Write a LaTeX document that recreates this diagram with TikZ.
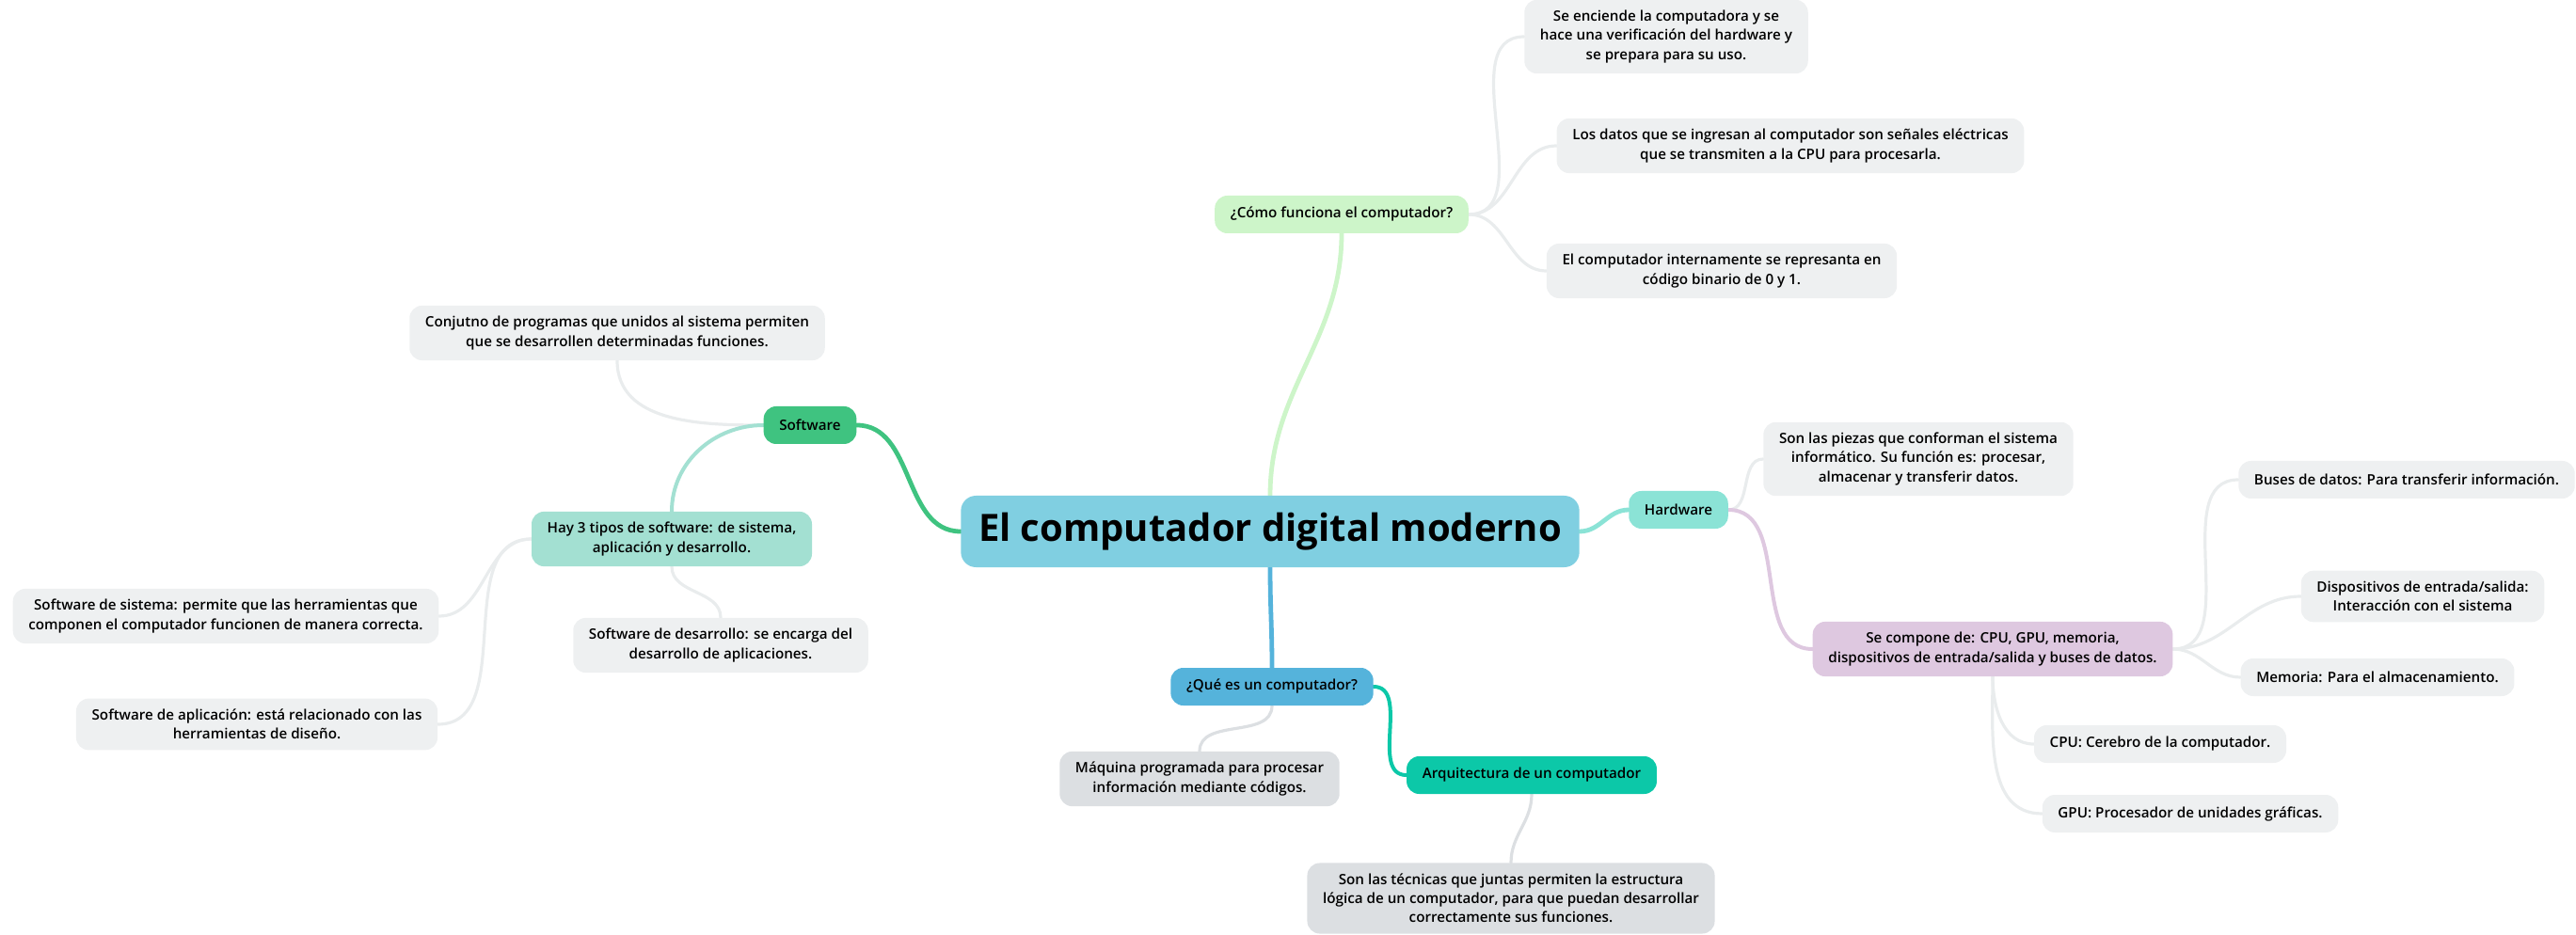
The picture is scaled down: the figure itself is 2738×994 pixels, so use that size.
\documentclass[tikz,border=0pt]{standalone}
\usepackage{fontspec}
\setmainfont{Open Sans}
\IfFontExistsTF{Open Sans SemiBold}{\newfontfamily\semib{Open Sans SemiBold}}{%
  \IfFontExistsTF{Open Sans Semibold}{\newfontfamily\semib{Open Sans Semibold}}{\newcommand\semib{\bfseries}}}
\usetikzlibrary{positioning,backgrounds}

\definecolor{rootblue}{HTML}{80CFE1}
\definecolor{howgreen}{HTML}{CDF5C9}
\definecolor{softgreen}{HTML}{3FC380}
\definecolor{typeteal}{HTML}{A3E0D2}
\definecolor{hardaqua}{HTML}{8BE3D6}
\definecolor{partlilac}{HTML}{DEC8E0}
\definecolor{whatblue}{HTML}{55B3DB}
\definecolor{archteal}{HTML}{0CC8A8}
\definecolor{leafgray}{HTML}{EEF0F1}
\definecolor{notegray}{HTML}{DCDFE2}
\definecolor{leafline}{HTML}{E9ECED}

\begin{document}
\begin{tikzpicture}[x=0.75pt,y=0.75pt,
    root/.style={rounded corners=12pt,fill=rootblue,inner xsep=14pt,minimum height=57pt,font=\bfseries\fontsize{30}{36}\selectfont},
    box/.style={rounded corners=10pt,fill=#1,inner xsep=12.5pt,inner ysep=8.5pt,minimum height=30pt,align=center,font=\semib\fontsize{11.4}{15.2}\selectfont},
    box/.default=leafgray,
    link/.style={draw=#1,line width=2.4pt,line cap=round},
    link/.default=leafline]
  \useasboundingbox (0,0) rectangle (2738,-994);

  \node[root] (pc) at (1350,-565) {El computador digital moderno};

  % como funciona
  \node[box=howgreen] (como) at (1426,-228) {¿Cómo funciona el computador?};
  \node[box] (enciende) at (1771,-39) {Se enciende la computadora y se\\hace una verificación del hardware y\\se prepara para su uso.};
  \node[box] (datos) at (1903,-155) {Los datos que se ingresan al computador son señales eléctricas\\que se transmiten a la CPU para procesarla.};
  \node[box] (interno) at (1830,-288) {El computador internamente se represanta en\\código binario de 0 y 1.};

  % software
  \node[box=softgreen] (soft) at (861,-452) {Software};
  \node[box] (conjunto) at (656,-354) {Conjutno de programas que unidos al sistema permiten\\que se desarrollen determinadas funciones.};
  \node[box=typeteal] (tipos) at (714,-573) {Hay 3 tipos de software: de sistema,\\aplicación y desarrollo.};
  \node[box] (sistema) at (240,-655) {Software de sistema: permite que las herramientas que\\componen el computador funcionen de manera correcta.};
  \node[box] (aplicacion) at (273,-770) {Software de aplicación: está relacionado con las\\herramientas de diseño.};
  \node[box] (desarrollo) at (766,-686) {Software de desarrollo: se encarga del\\desarrollo de aplicaciones.};

  % hardware
  \node[box=hardaqua] (hard) at (1784,-542) {Hardware};
  \node[box] (piezas) at (2039,-488) {Son las piezas que conforman el sistema\\informático. Su función es: procesar,\\almacenar y transferir datos.};
  \node[box=partlilac] (compone) at (2118,-690) {Se compone de: CPU, GPU, memoria,\\dispositivos de entrada/salida y buses de datos.};
  \node[box] (buses) at (2558,-510) {Buses de datos: Para transferir información.};
  \node[box] (disp) at (2575,-634) {Dispositivos de entrada/salida:\\Interacción con el sistema};
  \node[box] (memoria) at (2527,-720) {Memoria: Para el almacenamiento.};
  \node[box] (cpu) at (2296,-791) {CPU: Cerebro de la computador.};
  \node[box] (gpu) at (2328,-865) {GPU: Procesador de unidades gráficas.};

  % que es
  \node[box=whatblue] (quees) at (1352,-730) {¿Qué es un computador?};
  \node[box=notegray] (maquina) at (1275,-828) {Máquina programada para procesar\\información mediante códigos.};
  \node[box=archteal] (arq) at (1628,-824) {Arquitectura de un computador};
  \node[box=notegray] (tecnicas) at (1606,-955) {Son las técnicas que juntas permiten la estructura\\lógica de un computador, para que puedan desarrollar\\correctamente sus funciones.};

  \begin{scope}[on background layer]
    \draw[link=howgreen,line width=3.6pt] (pc.north) to[out=90,in=-90] (como.south);
    \draw[link=softgreen,line width=3.6pt] (pc.west) to[out=180,in=0] (soft.east);
    \draw[link=hardaqua,line width=3.6pt] (pc.east) to[out=0,in=180] (hard.west);
    \draw[link=whatblue,line width=3.6pt] (pc.south) to[out=-90,in=90] (quees.north);

    \foreach \leaf in {enciende,datos,interno}
      \draw[link] (como.east) to[out=0,in=180] (\leaf.west);

    \draw[link] (soft.west) to[out=180,in=-90] (conjunto.south);
    \draw[link=typeteal,line width=3pt] (soft.west) to[out=180,in=90] (tipos.north);
    \draw[link] (tipos.west) to[out=180,in=0] (sistema.east);
    \draw[link] (tipos.west) to[out=180,in=0] (aplicacion.east);
    \draw[link] (tipos.south) to[out=-90,in=90] (desarrollo.north);

    \draw[link] (hard.east) to[out=0,in=180] (piezas.west);
    \draw[link=partlilac,line width=3pt] (hard.east) to[out=0,in=180] (compone.west);
    \foreach \leaf in {buses,disp,memoria}
      \draw[link] (compone.east) to[out=0,in=180] (\leaf.west);
    \foreach \leaf in {cpu,gpu}
      \draw[link] (compone.south) to[out=-90,in=180] (\leaf.west);

    \draw[link=notegray] (quees.south) to[out=-90,in=90] (maquina.north);
    \draw[link=archteal,line width=3pt] (quees.east) to[out=0,in=180] (arq.west);
    \draw[link=notegray] (arq.south) to[out=-90,in=90] (tecnicas.north);
  \end{scope}
\end{tikzpicture}
\end{document}
